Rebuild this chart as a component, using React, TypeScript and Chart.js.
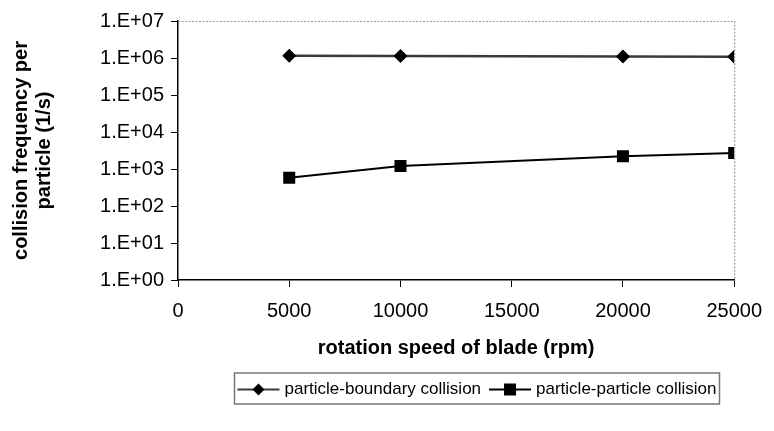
import React, { useEffect, useRef } from "react";
import { Chart, registerables } from "chart.js";

Chart.register(...registerables);

const rpm = [5000, 10000, 20000, 25000];
const boundaryFreq = [1.15e6, 1.13e6, 1.1e6, 1.08e6];
const particleFreq = [580, 1200, 2200, 2700];
const yTickValues = [1, 10, 100, 1000, 1e4, 1e5, 1e6, 1e7];
const yTickLabels = ["1.E+00", "1.E+01", "1.E+02", "1.E+03", "1.E+04", "1.E+05", "1.E+06", "1.E+07"];
const xTickValues = [0, 5000, 10000, 15000, 20000, 25000];
const xTickLabels = ["0", "5000", "10000", "15000", "20000", "25000"];
const seriesNames = ["particle-boundary collision", "particle-particle collision"];
const xTitle = "rotation speed of blade (rpm)";
const yTitle = ["collision frequency per", "particle (1/s)"];

const FONT = "'Liberation Sans', Arial, sans-serif";

const framePlugin = {
  id: "frame",
  afterDraw(chart: any) {
    const { ctx, chartArea } = chart;
    const { left, right, top, bottom } = chartArea;
    ctx.save();
    ctx.strokeStyle = "#9a9a9a";
    ctx.lineWidth = 1.2;
    ctx.setLineDash([2, 1.5]);
    ctx.beginPath();
    ctx.moveTo(left, top + 0.5);
    ctx.lineTo(right + 0.5, top + 0.5);
    ctx.lineTo(right + 0.5, bottom);
    ctx.stroke();
    ctx.restore();
  },
};

const legendPlugin = {
  id: "boxLegend",
  afterDraw(chart: any) {
    const ctx = chart.ctx;
    ctx.save();
    ctx.font = `17px ${FONT}`;
    ctx.textBaseline = "middle";
    const markerW = 42;
    const gap = 5;
    const itemGap = 8;
    const widths = seriesNames.map((n) => ctx.measureText(n).width);
    const total = widths.reduce((a, w) => a + markerW + gap + w, 0) + itemGap;
    const pad = 3;
    const cx = 477;
    const boxLeft = cx - total / 2 - pad;
    const boxRight = cx + total / 2 + pad;
    const boxTop = 373;
    const boxBottom = 404;
    ctx.strokeStyle = "#777";
    ctx.lineWidth = 1.5;
    ctx.strokeRect(boxLeft, boxTop, boxRight - boxLeft, boxBottom - boxTop);
    const cy = (boxTop + boxBottom) / 2 + 1;
    let x = boxLeft + pad;
    chart.data.datasets.forEach((ds: any, i: number) => {
      ctx.strokeStyle = ds.borderColor;
      ctx.lineWidth = 2;
      ctx.beginPath();
      ctx.moveTo(x, cy);
      ctx.lineTo(x + markerW, cy);
      ctx.stroke();
      ctx.fillStyle = "#000";
      const mx = x + markerW / 2;
      if (ds.pointStyle === "rectRot") {
        const r = 6;
        ctx.beginPath();
        ctx.moveTo(mx, cy - r);
        ctx.lineTo(mx + r, cy);
        ctx.lineTo(mx, cy + r);
        ctx.lineTo(mx - r, cy);
        ctx.closePath();
        ctx.fill();
      } else {
        const s = 6;
        ctx.fillRect(mx - s, cy - s, 2 * s, 2 * s);
      }
      ctx.fillStyle = "#000";
      ctx.fillText(seriesNames[i], x + markerW + gap, cy);
      x += markerW + gap + widths[i] + itemGap;
    });
    ctx.restore();
  },
};

export default function App() {
  const ref = useRef<HTMLCanvasElement | null>(null);
  useEffect(() => {
    document.body.style.margin = "0";
    const canvas = ref.current;
    if (!canvas) return;
    const chart = new Chart(canvas, {
      type: "line",
      data: {
        datasets: [
          {
            label: seriesNames[0],
            data: rpm.map((x, i) => ({ x, y: boundaryFreq[i] })),
            borderColor: "#3a3a3a",
            backgroundColor: "#000",
            borderWidth: 2.5,
            pointStyle: "rectRot",
            pointRadius: 7,
            pointBorderWidth: 0,
            pointBackgroundColor: "#000",
            tension: 0,
          },
          {
            label: seriesNames[1],
            data: rpm.map((x, i) => ({ x, y: particleFreq[i] })),
            borderColor: "#000",
            backgroundColor: "#000",
            borderWidth: 2,
            pointStyle: "rect",
            pointRadius: 8.5,
            pointBorderWidth: 0,
            pointBackgroundColor: "#000",
            tension: 0,
          },
        ],
      },
      options: {
        responsive: false,
        animation: false,
        events: [],
        layout: { padding: { left: 0, right: 37, top: 21, bottom: 59 } },
        plugins: {
          legend: { display: false },
          tooltip: { enabled: false },
        },
        scales: {
          x: {
            type: "linear",
            min: 0,
            max: 25000,
            afterBuildTicks: (scale: any) => {
              scale.ticks = xTickValues.map((v) => ({ value: v }));
            },
            afterFit: (scale: any) => {
              scale.height = 92;
            },
            ticks: {
              color: "#000",
              font: { family: FONT, size: 20 },
              padding: 12,
              maxRotation: 0,
              autoSkip: false,
              callback: (v: any) => {
                const i = xTickValues.indexOf(Number(v));
                return i >= 0 ? xTickLabels[i] : "";
              },
            },
            grid: { drawOnChartArea: false, drawTicks: true, tickLength: 7, color: "#000", lineWidth: 1 },
            border: { color: "#000", width: 1.5 },
            title: {
              display: true,
              text: xTitle,
              color: "#000",
              font: { family: FONT, size: 20, weight: "bold" },
              padding: { top: 0, bottom: 12 },
            },
          },
          y: {
            type: "logarithmic",
            min: 1,
            max: 1e7,
            afterBuildTicks: (scale: any) => {
              scale.ticks = yTickValues.map((v) => ({ value: v, major: true }));
            },
            afterFit: (scale: any) => {
              scale.width = 178;
            },
            ticks: {
              color: "#000",
              font: { family: FONT, size: 20 },
              padding: 7,
              autoSkip: false,
              callback: (v: any) => {
                const i = yTickValues.indexOf(Number(v));
                return i >= 0 ? yTickLabels[i] : "";
              },
            },
            grid: { drawOnChartArea: false, drawTicks: true, tickLength: 7, color: "#000", lineWidth: 1 },
            border: { color: "#000", width: 1.5 },
            title: {
              display: true,
              text: yTitle,
              color: "#000",
              font: { family: FONT, size: 20, weight: "bold", lineHeight: 1.15 },
              padding: { top: 10, bottom: 0 },
            },
          },
        },
      },
      plugins: [framePlugin, legendPlugin],
    });
    return () => chart.destroy();
  }, []);
  return (
    <div style={{ position: "absolute", left: 0, top: 0, width: 774, height: 431, background: "#fff" }}>
      <canvas ref={ref} width={774} height={431} style={{ display: "block", width: 774, height: 431 }} />
    </div>
  );
}
